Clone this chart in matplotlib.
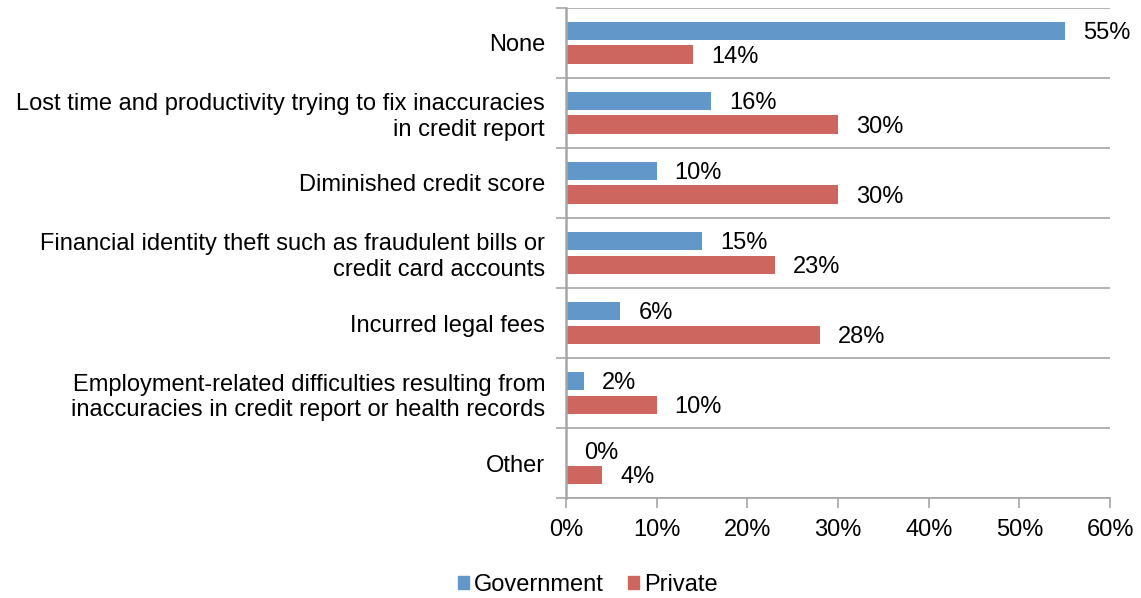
import numpy as np
import matplotlib
matplotlib.use('Agg')
import matplotlib.pyplot as plt
from matplotlib.ticker import FixedLocator, PercentFormatter
from matplotlib.patches import Patch

plt.rcParams['font.family'] = ['Liberation Sans', 'DejaVu Sans']

# consequences experienced, by type of organisation breached
categories = [
    'None',
    'Lost time and productivity trying to fix inaccuracies\nin credit report',
    'Diminished credit score',
    'Financial identity theft such as fraudulent bills or\ncredit card accounts',
    'Incurred legal fees',
    'Employment-related difficulties resulting from\ninaccuracies in credit report or health records',
    'Other',
]
government = [55, 16, 10, 15, 6, 2, 0]
private = [14, 30, 30, 23, 28, 10, 4]

blue = '#6197c9'
red = '#cd665f'
grey = '#a6a6a6'
fs = 17

fig = plt.figure(figsize=(11.41, 5.98), dpi=100)
ax = fig.add_axes([0.496, 0.167, 0.477, 0.820])

y = np.arange(len(categories))
off = 0.168
h = 0.262
ax.barh(y - off, government, height=h, color=blue)
ax.barh(y + off, private, height=h, color=red)

# value labels just past the end of each bar
for yy, v in zip(y - off, government):
    ax.annotate(f'{v}%', (v, yy), xytext=(13, -1.5), textcoords='offset points',
                va='center', ha='left', fontsize=fs)
for yy, v in zip(y + off, private):
    ax.annotate(f'{v}%', (v, yy), xytext=(13, -1.5), textcoords='offset points',
                va='center', ha='left', fontsize=fs)

ax.set_xlim(0, 60)
ax.set_ylim(len(categories) - 0.5, -0.5)
ax.xaxis.set_major_locator(FixedLocator(np.arange(0, 61, 10)))
ax.xaxis.set_major_formatter(PercentFormatter(decimals=0))

ax.set_yticks(y)
ax.set_yticklabels(categories, fontsize=fs, ha='right', multialignment='right')
ax.yaxis.set_minor_locator(FixedLocator(np.arange(-0.5, len(categories), 1)))
ax.tick_params(axis='y', which='major', length=0, pad=15)
ax.tick_params(axis='y', which='minor', length=7, color=grey, width=1.2)
ax.tick_params(axis='x', length=7, color=grey, width=1.2, labelsize=fs, pad=8)

ax.grid(axis='y', which='minor', color=grey, linewidth=1.2)
ax.set_axisbelow(True)

for s in ['top', 'right']:
    ax.spines[s].set_visible(False)
ax.spines['left'].set_color(grey)
ax.spines['left'].set_linewidth(1.8)
ax.spines['bottom'].set_color(grey)
ax.spines['bottom'].set_linewidth(1.2)

handles = [Patch(color=blue, label='Government'), Patch(color=red, label='Private')]
fig.legend(handles=handles, loc='center', bbox_to_anchor=(0.515, 0.022),
           ncol=2, frameon=False, fontsize=fs, handlelength=0.5, handleheight=0.5,
           handletextpad=0.2, columnspacing=1.0)

fig.savefig('out.png', dpi=100)
